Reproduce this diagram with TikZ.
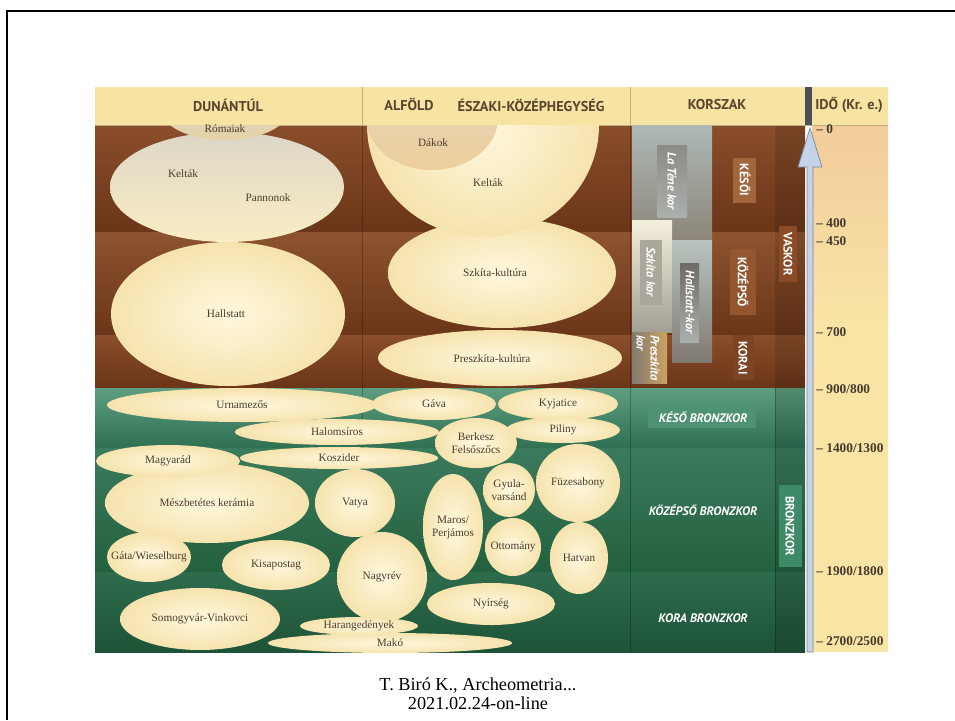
\documentclass[tikz,border=0pt]{standalone}
\usepackage{fontspec}
\setmainfont{Liberation Serif}
\newfontfamily\ptsans{PT Sans}
\usetikzlibrary{calc}
\definecolor{hdrbg}{HTML}{F7E4A3}
\definecolor{hdrtext}{HTML}{57462F}
\definecolor{hdrsep}{HTML}{BFAE80}
\definecolor{idobar}{HTML}{4A5058}
\definecolor{creamhi}{HTML}{FFF8DE}
\definecolor{creamlo}{HTML}{F6E3AE}
\definecolor{culttext}{HTML}{4B3B2B}
\definecolor{ticktext}{HTML}{45392C}
\definecolor{axisfill}{HTML}{C5D3E8}
\definecolor{axisline}{HTML}{7D8796}
\definecolor{ironA}{RGB}{138,78,43}
\definecolor{ironB}{RGB}{142,84,48}
\definecolor{ironlo}{RGB}{106,53,24}
\definecolor{bronzeA}{RGB}{94,158,128}
\definecolor{bronzeAlo}{RGB}{47,111,82}
\definecolor{bronzeB}{RGB}{59,123,93}
\definecolor{bronzeBlo}{RGB}{35,96,63}
\definecolor{bronzeC}{RGB}{46,108,78}
\definecolor{bronzeClo}{RGB}{29,83,54}
\definecolor{timehi}{RGB}{243,204,156}
\definecolor{timelo}{RGB}{248,229,165}
\definecolor{greyhi}{RGB}{174,185,181}
\definecolor{greylo}{RGB}{140,133,122}
\definecolor{whitehi}{RGB}{244,240,220}
\definecolor{whitelo}{RGB}{162,159,149}
\definecolor{hallhi}{RGB}{185,196,192}
\definecolor{halllo}{RGB}{127,122,114}
\definecolor{preleft}{RGB}{130,122,110}
\definecolor{preright}{RGB}{204,162,98}
\definecolor{boxdark}{RGB}{110,105,99}
\definecolor{boxmid}{RGB}{140,139,134}
\definecolor{boxlight}{RGB}{170,176,172}
\definecolor{boxszk}{RGB}{171,168,155}
\definecolor{kesoibox}{RGB}{163,101,60}
\definecolor{kozepbox}{RGB}{148,86,47}
\definecolor{koraibox}{RGB}{125,68,36}
\definecolor{vasbox}{RGB}{139,75,38}
\definecolor{kesobox}{RGB}{79,146,114}
\definecolor{bronzbox}{RGB}{63,138,102}
\definecolor{keltahi}{RGB}{220,214,198}
\definecolor{keltalo}{RGB}{250,237,196}
\definecolor{romahi}{RGB}{217,210,196}
\definecolor{romalo}{RGB}{230,210,168}
\definecolor{dakhi}{RGB}{226,214,192}
\definecolor{daklo}{RGB}{237,207,155}

\begin{document}
\begin{tikzpicture}[x=0.02cm, y=-0.02cm,
    hdr/.style={font=\ptsans\bfseries\fontsize{8.1}{9}\selectfont, text=hdrtext, inner sep=0pt},
    cult/.style={font=\fontsize{6.4}{7.4}\selectfont, text=culttext, align=center, inner sep=0pt},
    era/.style={font=\ptsans\bfseries\fontsize{7}{8}\selectfont, text=white, inner sep=0pt},
    eraital/.style={era, font=\ptsans\bfseries\itshape\fontsize{7}{8}\selectfont},
    tick/.style={font=\bfseries\fontsize{7.6}{8}\selectfont, text=ticktext, anchor=west, inner sep=0pt},
    blob/.style={inner color=creamhi, outer color=creamlo}]

    \useasboundingbox (0,0) rectangle (955,720);
    \draw[line width=1.3pt] (955,11) -- (7,11) -- (7,720);

    % bands
    \shade[top color=ironA, bottom color=ironlo] (95,125) rectangle (805,232);
    \shade[top color=ironB, bottom color=ironlo] (95,232) rectangle (805,335);
    \shade[top color=ironA, bottom color=ironlo] (95,335) rectangle (805,388);
    \shade[top color=bronzeA, bottom color=bronzeAlo] (95,388) rectangle (805,448);
    \shade[top color=bronzeB, bottom color=bronzeBlo] (95,448) rectangle (805,572);
    \shade[top color=bronzeC, bottom color=bronzeClo] (95,572) rectangle (805,652);
    \fill[black, opacity=0.12] (775,125) rectangle (805,652);
    \foreach \xs in {362, 630} {
        \draw[black, opacity=0.25] (\xs,125) -- (\xs,652);
    }
    \draw[black, opacity=0.25] (775,388) -- (775,652);

    % time column
    \shade[top color=timehi, bottom color=timelo] (812,125) rectangle (888,330);
    \fill[timelo] (812,330) rectangle (888,652);

    % header
    \fill[hdrbg] (95,87) rectangle (888,125);
    \draw[hdrsep] (95,125) -- (888,125);
    \draw[hdrsep] (362,87) -- (362,125);
    \draw[hdrsep] (630,87) -- (630,125);
    \fill[idobar] (805,87) rectangle (812,125);
    \node[hdr] (dunantul) at (228,105) {DUNÁNTÚL};
    \node[hdr] (alfold) at (409,105) {ALFÖLD};
    \node[hdr] (eszaki) at (531,105) {ÉSZAKI-KÖZÉPHEGYSÉG};
    \node[hdr] (korszak) at (717,105) {KORSZAK};
    \node[hdr, anchor=west] (ido) at (815,105) {IDŐ (Kr. e.)};

    % iron age cultures
    \begin{scope}
        \clip (95,125) rectangle (630,388);
        \shade[blob] (228,314) ellipse [x radius=117, y radius=72];
        \shade[blob] (502,273) ellipse [x radius=114, y radius=55];
        \shade[blob] (500,358) ellipse [x radius=122, y radius=28];
        \shade[top color=keltahi, bottom color=keltalo] (227,187) ellipse [x radius=117, y radius=55];
        \shade[blob] (483,125) ellipse [x radius=116, y radius=112];
        \shade[top color=romahi, bottom color=romalo] (225,112) ellipse [x radius=62, y radius=28];
        \shade[top color=dakhi, bottom color=daklo] (432,118) ellipse [x radius=66, y radius=52];
    \end{scope}
    \node[cult] (hallstatt) at (226,314) {Hallstatt};
    \node[cult] (szkita) at (495,273) {Szkíta-kultúra};
    \node[cult] (preszkita) at (492,359) {Preszkíta-kultúra};
    \node[cult] (keltakd) at (183,174) {Kelták};
    \node[cult] (pannonok) at (268,198) {Pannonok};
    \node[cult] (keltaka) at (488,183) {Kelták};
    \node[cult] (romaiak) at (225,129) {Rómaiak};
    \node[cult] (dakok) at (433,143) {Dákok};

    % bronze age cultures
    \begin{scope}
        \clip (95,388) rectangle (630,652);
        \foreach \x/\y/\rx/\ry/\nm/\txt in {
            242/405/135/17/urnamezos/Urnamezős,
            434/404/62/16/gava/Gáva,
            558/404/60/16/kyjatice/Kyjatice,
            563/430/57/13/piliny/Piliny,
            337/432/102/13/halomsiros/Halomsíros,
            476/443/41/25/berkesz/{Berkesz\\Felsőszőcs},
            207/503/102/40/meszbetetes/Mészbetétes kerámia,
            168/461/72/16/magyarad/Magyarád,
            339/458/99/11/koszider/Koszider,
            355/503/40/34/vatya/Vatya,
            453/527/30/53/maros/{Maros/\\Perjámos},
            509/490/26/27/gyula/{Gyula-\\varsánd},
            578/483/42/39/fuzesabony/Füzesabony,
            513/547/28/29/ottomany/Ottomány,
            579/558/29/36/hatvan/Hatvan,
            149/557/42/25/gata/{Gáta/Wieselburg},
            276/565/54/25/kisapostag/Kisapostag,
            382/577/45/45/nagyrev/Nagyrév,
            491/604/64/21/nyirseg/Nyírség,
            200/619/80/31/somogyvar/Somogyvár-Vinkovci,
            390/643/122/10/mako/Makó,
            359/626/59/9/harang/Harangedények} {
            \shade[blob] (\x,\y) ellipse [x radius=\rx, y radius=\ry];
            \node[cult] (\nm) at (\x,\y) {\txt};
        }
    \end{scope}

    % periods
    \shade[top color=greyhi, bottom color=greylo] (632,125) rectangle (712,240);
    \shade[top color=whitehi, bottom color=whitelo] (632,220) rectangle (672,332);
    \shade[top color=hallhi, bottom color=halllo] (672,240) rectangle (712,362);
    \shade[left color=preleft, right color=preright] (632,332) rectangle (667,383);
    \shade[top color=boxmid, bottom color=boxlight] (657,145) rectangle (687,217);
    \fill[boxszk] (640,240) rectangle (662,305);
    \shade[top color=boxdark, bottom color=boxlight] (680,263) rectangle (699,342);
    \fill[kesoibox] (733,158) rectangle (756,203);
    \fill[kozepbox] (730,249) rectangle (756,315);
    \fill[koraibox] (733,335) rectangle (754,380);
    \fill[vasbox] (779,226) rectangle (797,282);
    \fill[kesobox] (648,405) rectangle (756,428);
    \fill[bronzbox] (779,485) rectangle (802,567);

    \node[eraital, rotate=-90] (laTene) at (672,181) {La Tène kor};
    \node[eraital, rotate=-90] (szkitakor) at (651,272) {Szkíta kor};
    \node[eraital, rotate=-90] (hallstattkor) at (690,302) {Hallstatt-kor};
    \node[eraital, rotate=-90, align=left] (preszkitakor) at (648,358) {Preszkíta\\kor};
    \node[era, rotate=-90] (kesoi) at (745,180) {KÉSŐI};
    \node[era, rotate=-90] (kozepso) at (743,282) {KÖZÉPSŐ};
    \node[era, rotate=-90] (korai) at (743,358) {KORAI};
    \node[era, rotate=-90] (vaskor) at (788,254) {VASKOR};
    \node[eraital] (kesobronz) at (703,417) {KÉSŐ BRONZKOR};
    \node[eraital] (kozepsobronz) at (703,510) {KÖZÉPSŐ BRONZKOR};
    \node[eraital] (korabronz) at (703,618) {KORA BRONZKOR};
    \node[era, rotate=-90] (bronzkor) at (790,526) {BRONZKOR};

    % time axis
    \coordinate (ttop) at (810,128);
    \coordinate (tbot) at (810,652);
    \filldraw[fill=axisfill, draw=axisline, line width=0.4pt] ($(tbot)+(-3,0)$) -- ($(ttop)+(-3,39)$) -- ($(ttop)+(-12,39)$) -- (ttop) -- ($(ttop)+(12,39)$) -- ($(ttop)+(3,39)$) -- ($(tbot)+(3,0)$) -- cycle;
    \foreach \y/\t [count=\i] in {129/0, 223/400, 241/450, 332/700, 389/900\slash 800, 448/1400\slash 1300, 571/1900\slash 1800, 641/2700\slash 2500} {
        \node[tick] (tick\i) at (816,\y) {\textendash\ \t};
    }

    \node[font=\fontsize{10.4}{11}\selectfont, align=center] (source) at (478,694) {T. Biró K., Archeometria...\\2021.02.24-on-line};
\end{tikzpicture}
\end{document}
